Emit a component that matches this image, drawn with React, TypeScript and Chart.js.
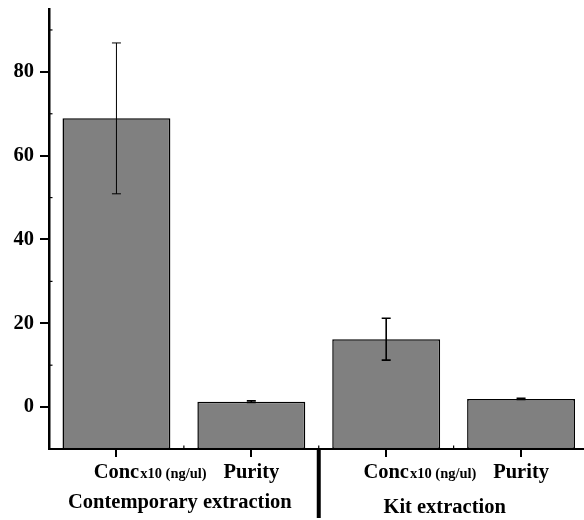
import React, { useEffect, useRef } from "react";
import { Chart, registerables } from "chart.js";

Chart.register(...registerables);

const categories = ["Conc", "Purity", "Conc", "Purity"];
const subLabels = ["x10 (ng/ul)", "", "x10 (ng/ul)", ""];
const values = [68.9, 1.3, 16.2, 1.95];
const errors = [18.0, 0.2, 5.0, 0.15];
const groups = ["Contemporary extraction", "Kit extraction"];
const yTicks = [0, 20, 40, 60, 80];
const yMinor = [-10, 10, 30, 50, 70, 90];

const FONT = "'Liberation Serif', 'Times New Roman', serif";

export default function App() {
  const ref = useRef<HTMLCanvasElement | null>(null);
  useEffect(() => {
    document.body.style.margin = "0";
    const canvas = ref.current!;
    const extras = {
      id: "extras",
      afterDatasetsDraw(chart: any) {
        const ctx = chart.ctx;
        const x = chart.scales.x;
        const y = chart.scales.y;
        const meta = chart.getDatasetMeta(0);
        ctx.save();
        ctx.strokeStyle = "#000";
        // error bars
        meta.data.forEach((bar: any, i: number) => {
          const cx = bar.x;
          const top = y.getPixelForValue(values[i] + errors[i]);
          const bot = y.getPixelForValue(values[i] - errors[i]);
          ctx.lineWidth = i === 0 ? 1 : 1.6;
          ctx.beginPath();
          ctx.moveTo(cx, top);
          ctx.lineTo(cx, bot);
          ctx.moveTo(cx - 4.5, top);
          ctx.lineTo(cx + 4.5, top);
          ctx.moveTo(cx - 4.5, bot);
          ctx.lineTo(cx + 4.5, bot);
          ctx.stroke();
        });
        // minor y ticks
        ctx.lineWidth = 1.2;
        yMinor.forEach((v) => {
          const py = y.getPixelForValue(v);
          ctx.beginPath();
          ctx.moveTo(chart.chartArea.left, py);
          ctx.lineTo(chart.chartArea.left + 3.5, py);
          ctx.stroke();
        });
        // minor x ticks between categories
        for (let i = 0; i < categories.length - 1; i++) {
          const px = (x.getPixelForValue(i) + x.getPixelForValue(i + 1)) / 2;
          ctx.beginPath();
          ctx.moveTo(px, chart.chartArea.bottom);
          ctx.lineTo(px, chart.chartArea.bottom - 3.5);
          ctx.stroke();
        }
        // category labels
        ctx.fillStyle = "#000";
        ctx.textBaseline = "alphabetic";
        categories.forEach((c, i) => {
          const px = x.getPixelForValue(i);
          ctx.font = `bold 20.5px ${FONT}`;
          const w = ctx.measureText(c).width;
          ctx.textAlign = "center";
          ctx.fillText(c, px, 478);
          if (subLabels[i]) {
            ctx.font = `bold 14.5px ${FONT}`;
            ctx.textAlign = "left";
            ctx.fillText(subLabels[i], px + w / 2 + 1, 478);
          }
        });
        // group labels
        ctx.font = `bold 20.5px ${FONT}`;
        ctx.textAlign = "center";
        const g0 = (x.getPixelForValue(0) + x.getPixelForValue(1)) / 2 - 4;
        const g1 = (x.getPixelForValue(2) + x.getPixelForValue(3)) / 2 - 9;
        ctx.fillText(groups[0], g0, 508);
        ctx.fillText(groups[1], g1, 513);
        // separator
        const sx = (x.getPixelForValue(1) + x.getPixelForValue(2)) / 2;
        ctx.lineWidth = 4;
        ctx.beginPath();
        ctx.moveTo(sx, chart.chartArea.bottom);
        ctx.lineTo(sx, 518);
        ctx.stroke();
        ctx.restore();
      },
    };
    const chart = new Chart(canvas, {
      type: "bar",
      data: {
        labels: categories,
        datasets: [
          {
            data: values,
            base: -10,
            backgroundColor: "#808080",
            borderColor: "#000",
            borderWidth: 1.5,
            borderSkipped: false,
            barPercentage: 0.8,
            categoryPercentage: 1.0,
          } as any,
        ],
      },
      options: {
        responsive: false,
        animation: false,
        devicePixelRatio: 1,
        layout: { padding: { top: 9, right: 1.5, left: 0, bottom: 0 } },
        plugins: { legend: { display: false }, tooltip: { enabled: false } },
        scales: {
          x: {
            type: "category",
            offset: true,
            grid: {
              offset: false,
              drawOnChartArea: false,
              drawTicks: true,
              tickLength: 8,
              color: "#000",
              lineWidth: 2,
            },
            border: { display: true, color: "#000", width: 2 },
            ticks: { display: false },
            afterFit: (s: any) => {
              s.height = 71;
              s.paddingLeft = 0;
              s.paddingRight = 0;
            },
          },
          y: {
            min: -10,
            max: 95,
            afterBuildTicks: (s: any) => {
              s.ticks = yTicks.map((v) => ({ value: v }));
            },
            grid: {
              drawOnChartArea: false,
              drawTicks: true,
              tickLength: 9,
              color: "#000",
              lineWidth: 2,
            },
            border: { display: true, color: "#000", width: 2.5 },
            ticks: {
              color: "#000",
              padding: 6,
              font: { family: FONT, size: 20.5, weight: "bold" },
            },
            afterFit: (s: any) => {
              s.width = 49;
              s.paddingTop = 0;
              s.paddingBottom = 0;
            },
          },
        },
      },
      plugins: [extras],
    });
    return () => chart.destroy();
  }, []);
  return (
    <div style={{ width: 584, height: 520, overflow: "hidden", position: "relative" }}>
      <canvas ref={ref} width={590} height={520} style={{ width: 590, height: 520, display: "block" }} />
    </div>
  );
}
